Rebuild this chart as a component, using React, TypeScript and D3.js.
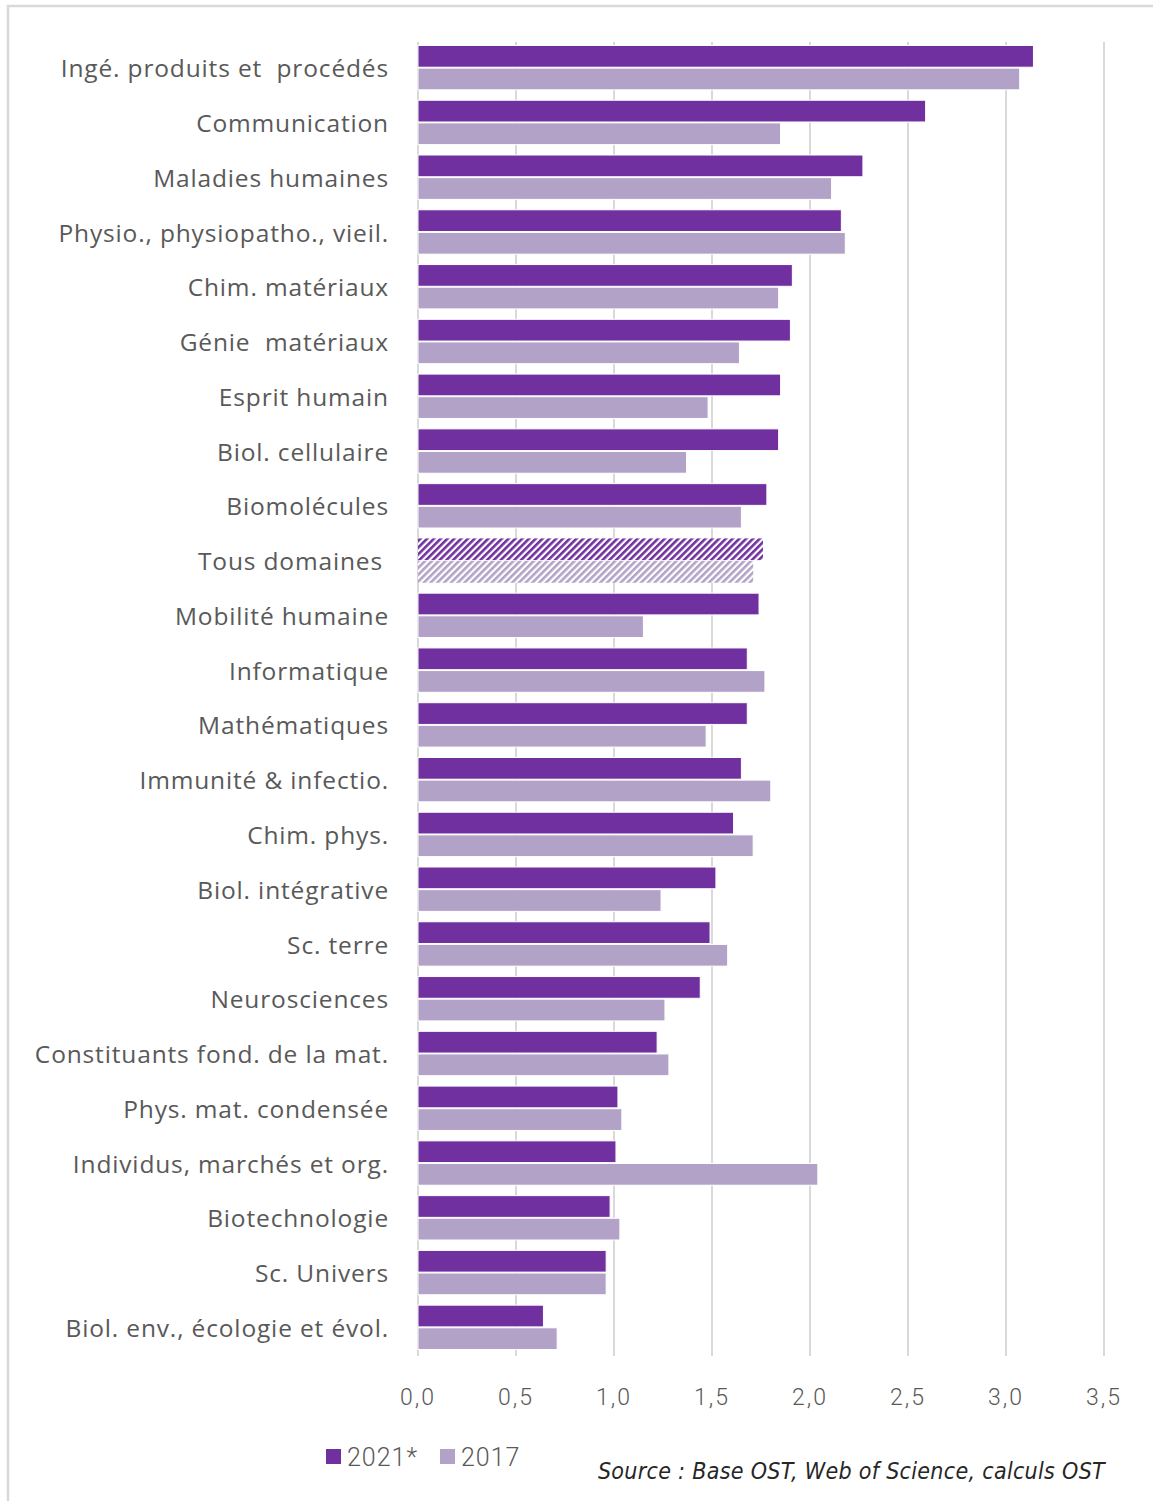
import React from "react";
import * as d3 from "d3";

const categories = [
  "Ingé. produits et  procédés",
  "Communication",
  "Maladies humaines",
  "Physio., physiopatho., vieil.",
  "Chim. matériaux",
  "Génie  matériaux",
  "Esprit humain",
  "Biol. cellulaire",
  "Biomolécules",
  "Tous domaines",
  "Mobilité humaine",
  "Informatique",
  "Mathématiques",
  "Immunité & infectio.",
  "Chim. phys.",
  "Biol. intégrative",
  "Sc. terre",
  "Neurosciences",
  "Constituants fond. de la mat.",
  "Phys. mat. condensée",
  "Individus, marchés et org.",
  "Biotechnologie",
  "Sc. Univers",
  "Biol. env., écologie et évol.",
];

const values2021 = [
  3.14, 2.59, 2.27, 2.16, 1.91, 1.9, 1.85, 1.84, 1.78, 1.76, 1.74, 1.68, 1.68,
  1.65, 1.61, 1.52, 1.49, 1.44, 1.22, 1.02, 1.01, 0.98, 0.96, 0.64,
];
const values2017 = [
  3.07, 1.85, 2.11, 2.18, 1.84, 1.64, 1.48, 1.37, 1.65, 1.71, 1.15, 1.77, 1.47,
  1.8, 1.71, 1.24, 1.58, 1.26, 1.28, 1.04, 2.04, 1.03, 0.96, 0.71,
];
const seriesNames = ["2021*", "2017"];
const tickValues = [0, 0.5, 1, 1.5, 2, 2.5, 3, 3.5];
const highlighted = "Tous domaines";

const C2021 = "#7030A0";
const C2017 = "#B3A2C7";
const TEXT = "#595959";
const GRID = "#D9D9D9";
const FONT = "'Open Sans', 'Noto Sans', sans-serif";
const NUMFONT = "Roboto, 'Liberation Sans', sans-serif";

export default function App() {
  const W = 1153;
  const H = 1501;
  const x = d3.scaleLinear().domain([0, 3.5]).range([418, 1104]);
  const y = d3
    .scaleBand<string>()
    .domain(categories)
    .range([40, 1355])
    .paddingInner(0.19)
    .paddingOuter(0.1);
  const sub = d3
    .scaleBand<string>()
    .domain(seriesNames)
    .range([0, y.bandwidth()])
    .paddingInner(0.04);
  const fmt = (v: number) => v.toFixed(1).replace(".", ",");

  return (
    <svg
      width={W}
      height={H}
      style={{ position: "absolute", left: 0, top: 0, background: "#fff" }}
      fontFamily={FONT}
    >
      <defs>
        <pattern
          id="hatch2021"
          patternUnits="userSpaceOnUse"
          width={4.8}
          height={4.8}
          patternTransform="rotate(45)"
        >
          <rect width={4.8} height={4.8} fill="#fff" />
          <rect width={2.6} height={4.8} fill={C2021} />
        </pattern>
        <pattern
          id="hatch2017"
          patternUnits="userSpaceOnUse"
          width={4.8}
          height={4.8}
          patternTransform="rotate(45)"
        >
          <rect width={4.8} height={4.8} fill="#fff" />
          <rect width={2.6} height={4.8} fill={C2017} />
        </pattern>
      </defs>
      <rect x={0} y={0} width={W} height={H} fill="#fff" />
      {/* frame */}
      <path
        d={`M8,${H} L8,6 L${W},6`}
        fill="none"
        stroke={GRID}
        strokeWidth={2.5}
      />
      {/* gridlines */}
      {tickValues.map((t) => (
        <line
          key={t}
          x1={x(t)}
          x2={x(t)}
          y1={42}
          y2={1356}
          stroke={GRID}
          strokeWidth={2}
        />
      ))}
      {/* bars */}
      {categories.map((c, i) => {
        const y0 = y(c) as number;
        const hl = c === highlighted;
        return (
          <g key={c}>
            <rect
              x={x(0)}
              y={y0 + (sub("2021*") as number)}
              width={x(values2021[i]) - x(0)}
              height={sub.bandwidth()}
              fill={hl ? "url(#hatch2021)" : C2021}
              stroke="#fff"
              strokeWidth={hl ? 0 : 1}
            />
            <rect
              x={x(0)}
              y={y0 + (sub("2017") as number)}
              width={x(values2017[i]) - x(0)}
              height={sub.bandwidth()}
              fill={hl ? "url(#hatch2017)" : C2017}
              stroke="#fff"
              strokeWidth={hl ? 0 : 1}
            />
            <text
              x={hl ? 383 : 389}
              y={y0 + y.bandwidth() / 2 + 1}
              dy="0.35em"
              textAnchor="end"
              fontSize={24.5}
              letterSpacing={0.85}
              fill={TEXT}
              style={{ whiteSpace: "pre" }}
            >
              {c}
            </text>
          </g>
        );
      })}
      {/* x tick labels */}
      {tickValues.map((t) => (
        <text
          key={"l" + t}
          x={x(t)}
          y={1397}
          dy="0.35em"
          textAnchor="middle"
          fontSize={23}
          fontWeight={300}
          letterSpacing={2}
          fill={TEXT}
          fontFamily={NUMFONT}
        >
          {fmt(t)}
        </text>
      ))}
      {/* legend */}
      {seriesNames.map((s, i) => {
        const lx = [326, 440][i];
        return (
          <g key={s}>
            <rect x={lx} y={1449} width={15} height={15} fill={i === 0 ? C2021 : C2017} />
            <text
              x={lx + 21}
              y={1457}
              dy="0.35em"
              fontSize={25}
              fontWeight={300}
              letterSpacing={1}
              fill={TEXT}
              fontFamily={NUMFONT}
            >
              {s}
            </text>
          </g>
        );
      })}
      <text
        x={1105}
        y={1471}
        dy="0.35em"
        textAnchor="end"
        fontSize={23}
        fontStyle="italic"
        letterSpacing={0.3}
        fill="#262626"
        fontFamily="'Liberation Sans Narrow', 'DejaVu Sans Condensed', sans-serif"
      >
        Source : Base OST, Web of Science, calculs OST
      </text>
    </svg>
  );
}
